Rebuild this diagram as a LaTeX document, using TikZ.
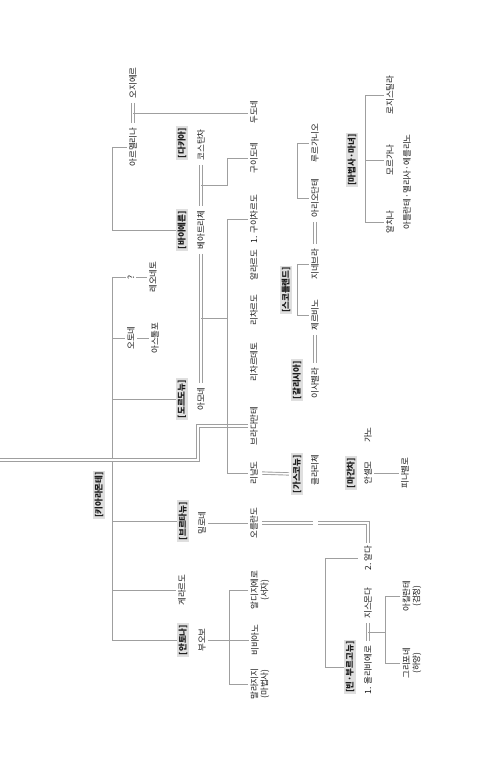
\documentclass[tikz,border=0pt]{standalone}
\usepackage{fontspec}
\setmainfont{Noto Sans CJK KR}
\usetikzlibrary{positioning, calc}

\begin{document}
\begin{tikzpicture}[
    x=1pt, y=-1pt,
    person/.style={rotate=90, font=\fontsize{8.5}{10}\selectfont, inner sep=2pt, align=center, text=black!90},
    house/.style={person, fill=gray!25, inner sep=1.5pt, font=\bfseries\fontsize{8.5}{10}\selectfont},
    line/.style={draw=gray!75, line width=0.8pt},
    wed/.style={draw=gray!75, line width=0.9pt, double=white, double distance=1.5pt},
    gap/.style={shorten <=2pt, shorten >=2pt},
]
\useasboundingbox (0,0) rectangle (500,778);

%% NODES
    % Chiaramonte and its branches
    \node[house] (chiara_house) at (99,495) {[키아라몬테]};
    \node[person] (ogier) at (133,83) {오지에르};
    \node[person] (armellina) at (133,147) {아르멜리나};
    \node[person] (unknown) at (131,277) {?};
    \node[person] (leonetto) at (153,277) {레오네토};
    \node[person] (ottone) at (131,338) {오토네};
    \node[person] (astolfo) at (155,338) {아스톨포};

    \node[house] (dacia_house) at (182,143) {[다키아]};
    \node[house] (bayern_house) at (182,230) {[바이에른]};
    \node[house] (dordogne_house) at (182,399) {[도르도뉴]};
    \node[house] (bretagne_house) at (183,521) {[브르타뉴]};
    \node[person] (gerardo) at (182,590) {게라르도};
    \node[house] (antona_house) at (183,640) {[안토나]};

    \node[person] (costanza) at (201,145) {코스탄차};
    \node[person] (beatrice) at (201,230) {베아트리체};
    \node[person] (amone) at (201,399) {아모네};
    \node[person] (milone) at (202,523) {밀로네};
    \node[person] (buovo) at (202,640) {부오보};

    % next generation
    \node[person] (dudone) at (254,112) {두도네};
    \node[person] (guidone) at (254,158) {구이도네};
    \node[person] (guicciardo) at (254,219) {1. 구이차르도};
    \node[person] (alardo) at (254,265) {알라르도};
    \node[person] (ricciardo) at (254,310) {리차르도};
    \node[person] (ricciardetto) at (254,362) {리차르데토};
    \node[person] (bradamante) at (254,426) {브라다만테};
    \node[person] (rinaldo) at (254,473) {리날도};
    \node[person] (orlando) at (254,523) {오를란도};
    \node[person] (aldigiero) at (260,590) {알디지에로\\(서자)};
    \node[person] (viviano) at (255,640) {비비아노};
    \node[person] (malagigi) at (260,684) {말라지지\\(마법사)};

    % Scotland, Galicia, Gascony
    \node[person] (lurcanio) at (315,143) {루르가니오};
    \node[person] (ariodante) at (315,198) {아리오단테};
    \node[person] (ginevra) at (315,264) {지네브라};
    \node[house] (scotland_house) at (286,290) {[스코틀랜드]};
    \node[person] (zerbino) at (315,315) {제르비노};
    \node[house] (galicia_house) at (297,380) {[갈리시아]};
    \node[person] (isabella) at (315,383) {이사벨라};
    \node[house] (gascogne_house) at (297,474) {[가스코뉴]};
    \node[person] (clarice) at (315,470) {클라리체};

    % Maganza, Vienne
    \node[house] (maganza_house) at (351,473) {[마간차]};
    \node[person] (gano) at (368,435) {가노};
    \node[person] (anselmo) at (368,473) {안셀모};
    \node[person] (pinabello) at (405,473) {피나벨로};
    \node[person] (alda) at (368,558) {2. 알다};
    \node[person] (gismonda) at (368,603) {지스몬다};
    \node[house] (vienne_house) at (350,667) {[빈·부르고뉴]};
    \node[person] (oliviero) at (368,670) {1. 올리비에로};
    \node[person] (aquilante) at (412,596) {아킬란테\\(검정)};
    \node[person] (grifone) at (412,663) {그리포네\\(하양)};

    % sorcerers
    \node[house] (magic_house) at (352,160) {[마법사·마녀]};
    \node[person] (logistilla) at (390,95) {로지스틸라};
    \node[person] (morgana) at (390,160) {모르가나};
    \node[person] (alcina) at (390,222) {알치나};
    \node[person] (atlante) at (407,182) {아틀란테·멜리사·에를리노};

    % bends
    \coordinate (spine) at (112,0);
    \coordinate (kids_bar) at (227,0);
    \coordinate (buovo_bar) at (229,0);
    \coordinate (scot_bar) at (297,0);
    \coordinate (vienne_bar) at (325,0);
    \coordinate (magic_bar) at (365,0);
    \coordinate (twins_bar) at (385,0);
    \coordinate (brad_bend) at (198,0);
    \coordinate (left_edge) at (0,460);
    \coordinate (gap_l) at (313,523);
    \coordinate (gap_r) at (318,523);

%% CONNECTIONS
    % Chiaramonte spine
    \draw[line] (armellina.north) -- (armellina.north -| spine) |- (bayern_house.north);
    \draw[line] (unknown.north) -- (unknown.north -| spine) |- (antona_house.north);
    \draw[line] (ottone.north -| spine) -- (ottone.north);
    \draw[line] (dordogne_house.north -| spine) -- (dordogne_house.north);
    \draw[line] (bretagne_house.north -| spine) -- (bretagne_house.north);
    \draw[line] (gerardo.north -| spine) -- (gerardo.north);
    \draw[line] (unknown.south) -- (leonetto.north);
    \draw[line] (ottone.south) -- (astolfo.north);

    % marriages
    \draw[wed, gap] (ogier.west) -- (armellina.east);
    \draw[wed, gap] (costanza.west) -- (beatrice.east);
    \draw[wed, gap] (beatrice.west) -- (amone.east);
    \draw[wed, gap] (ariodante.west) -- (ginevra.east);
    \draw[wed, gap] (zerbino.west) -- (isabella.east);
    \draw[wed, gap] (gismonda.west) -- (oliviero.east);
    \draw[wed, gap] (rinaldo.south) -- (gascogne_house.north);
    \draw[wed] (left_edge) -- (left_edge -| brad_bend) |- (bradamante.north);
    \draw[wed, shorten <=2pt] (orlando.south) -- (gap_l);
    \draw[wed] (gap_r) -| (alda.east);

    % children
    \coordinate (oa) at ($(ogier.west)!0.5!(armellina.east)$);
    \draw[line] (oa) -- (oa -| dudone.north);
    \coordinate (cb) at ($(costanza.west)!0.5!(beatrice.east)$);
    \draw[line] (cb) -- (cb -| kids_bar) |- (guidone.north);
    \coordinate (ba) at ($(beatrice.west)!0.5!(amone.east)$);
    \draw[line] (ba) -- (ba -| kids_bar);
    \draw[line] (guicciardo.north) -- (guicciardo.north -| kids_bar) |- (rinaldo.north);
    \draw[line] (milone.south) -- (orlando.north);
    \draw[line] (buovo.south) -- (viviano.north);
    \draw[line] (aldigiero.north) -- (aldigiero.north -| buovo_bar) |- (malagigi.north);
    \draw[line] (anselmo.south) -- (pinabello.north);
    \draw[line, shorten <=4pt] (alda.north) -- (alda.north -| vienne_bar) |- (vienne_house.north);
    \coordinate (go) at ($(gismonda.west)!0.5!(oliviero.east)$);
    \draw[line] (go) -- (go -| twins_bar);
    \draw[line] (aquilante.north) -- (aquilante.north -| twins_bar) |- (grifone.north);

    % brackets
    \draw[line] (lurcanio.north) -- (lurcanio.north -| scot_bar) |- (ariodante.north);
    \draw[line] (ginevra.north) -- (ginevra.north -| scot_bar) |- (zerbino.north);
    \draw[line] (logistilla.north) -- (logistilla.north -| magic_bar) |- (alcina.north);
    \draw[line] (morgana.north -| magic_bar) -- (morgana.north);

\end{tikzpicture}
\end{document}
